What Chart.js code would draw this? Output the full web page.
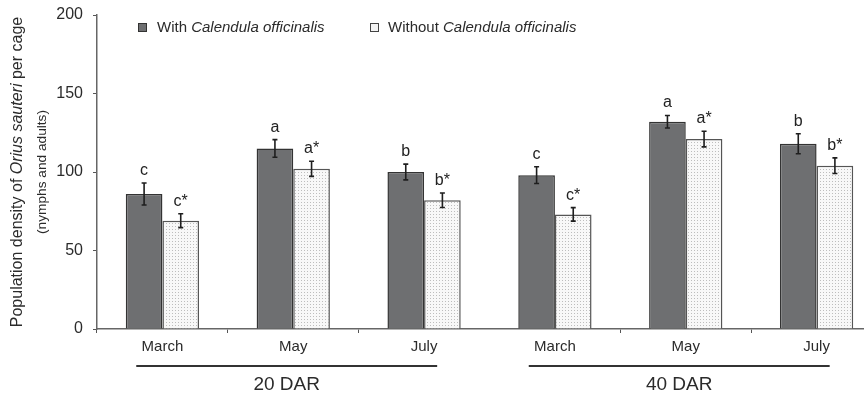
<!DOCTYPE html>
<html>
<head>
<meta charset="utf-8">
<script src="https://cdn.jsdelivr.net/npm/chart.js@4.4.1/dist/chart.umd.min.js"></script>
<style>
  html, body { margin: 0; padding: 0; background: #fff; overflow: hidden; }
  #wrap { position: absolute; left: 0; top: 0; width: 882px; height: 398px; }
</style>
</head>
<body>
<div id="wrap"><canvas id="chart"></canvas></div>
<script>
const months = ["March", "May", "July", "March", "May", "July"];
const groups = [
  { label: "20 DAR", first: 0, last: 2 },
  { label: "40 DAR", first: 3, last: 5 }
];
const withCal = [86, 115, 100, 98, 132, 118];
const withCalErr = [7, 5.6, 5, 5.3, 4, 6.4];
const withCalLetters = ["c", "a", "b", "c", "a", "b"];
const withoutCal = [69, 102, 82, 73, 121, 104];
const withoutCalErr = [4.4, 4.8, 4.6, 4.3, 5, 5];
const withoutCalLetters = ["c*", "a*", "b*", "c*", "a*", "b*"];
const yTicks = [0, 50, 100, 150, 200];

const FONT = "'Liberation Sans', Arial, sans-serif";
const TEXT = "#2b2b2b";

// dotted fill for the "without" bars
function dotPattern() {
  const c = document.createElement("canvas");
  c.width = 3; c.height = 3;
  const g = c.getContext("2d");
  g.fillStyle = "#f8f8f8";
  g.fillRect(0, 0, 3, 3);
  g.fillStyle = "#bdbdbd";
  g.fillRect(1, 1, 1, 1);
  return g.createPattern(c, "repeat");
}

// draws a line of text made of plain/italic pieces, centred on x
function mixedText(ctx, parts, x, y, size) {
  let total = 0;
  parts.forEach(p => {
    ctx.font = (p[1] ? "italic " : "") + size + "px " + FONT;
    total += ctx.measureText(p[0]).width;
  });
  let cx = x - total / 2;
  ctx.textAlign = "left";
  parts.forEach(p => {
    ctx.font = (p[1] ? "italic " : "") + size + "px " + FONT;
    ctx.fillText(p[0], cx, y);
    cx += ctx.measureText(p[0]).width;
  });
}

const errorBars = {
  id: "errorBars",
  afterDatasetsDraw(chart) {
    const ctx = chart.ctx;
    const y = chart.scales.y;
    const errs = [withCalErr, withoutCalErr];
    const letters = [withCalLetters, withoutCalLetters];
    ctx.save();
    chart.data.datasets.forEach((ds, di) => {
      const meta = chart.getDatasetMeta(di);
      meta.data.forEach((bar, i) => {
        const top = y.getPixelForValue(ds.data[i] + errs[di][i]);
        const bot = y.getPixelForValue(ds.data[i] - errs[di][i]);
        ctx.strokeStyle = "#1e1e1e";
        ctx.lineWidth = 1.6;
        ctx.beginPath();
        ctx.moveTo(bar.x, top); ctx.lineTo(bar.x, bot);
        ctx.moveTo(bar.x - 2.5, top); ctx.lineTo(bar.x + 2.5, top);
        ctx.moveTo(bar.x - 2.5, bot); ctx.lineTo(bar.x + 2.5, bot);
        ctx.stroke();
        ctx.fillStyle = "#222";
        ctx.font = "16px " + FONT;
        ctx.textAlign = "center";
        ctx.textBaseline = "alphabetic";
        ctx.fillText(letters[di][i], bar.x, top - 8);
      });
    });
    ctx.restore();
  }
};

const decorations = {
  id: "decorations",
  afterDraw(chart) {
    const ctx = chart.ctx;
    const x = chart.scales.x;
    const area = chart.chartArea;
    const w = x.getPixelForValue(1) - x.getPixelForValue(0);
    ctx.save();
    ctx.fillStyle = TEXT;

    // y axis title
    ctx.save();
    ctx.textBaseline = "middle";
    const midY = (area.top + area.bottom) / 2;
    ctx.translate(18, midY);
    ctx.rotate(-Math.PI / 2);
    mixedText(ctx, [["Population density of ", false], ["Orius sauteri", true], [" per cage", false]], 0, 0, 16);
    ctx.restore();
    ctx.save();
    ctx.textBaseline = "middle";
    ctx.translate(42, midY);
    ctx.rotate(-Math.PI / 2);
    mixedText(ctx, [["(nymphs and adults)", false]], 0, 0, 13.7);
    ctx.restore();

    // legend
    ctx.textBaseline = "middle";
    ctx.lineWidth = 1;
    ctx.fillStyle = "#6e6f71";
    ctx.fillRect(138.5, 23.5, 8, 8);
    ctx.strokeStyle = "#333";
    ctx.strokeRect(138.5, 23.5, 8, 8);
    ctx.fillStyle = "#f4f4f4";
    ctx.fillRect(370.5, 23.5, 8, 8);
    ctx.strokeStyle = "#444";
    ctx.strokeRect(370.5, 23.5, 8, 8);
    ctx.fillStyle = TEXT;
    let lx = 157;
    [["With ", false], ["Calendula officinalis", true]].forEach(p => {
      ctx.font = (p[1] ? "italic " : "") + "15px " + FONT;
      ctx.textAlign = "left";
      ctx.fillText(p[0], lx, 28);
      lx += ctx.measureText(p[0]).width;
    });
    lx = 388;
    [["Without ", false], ["Calendula officinalis", true]].forEach(p => {
      ctx.font = (p[1] ? "italic " : "") + "15px " + FONT;
      ctx.fillText(p[0], lx, 28);
      lx += ctx.measureText(p[0]).width;
    });

    // group lines and labels under the months
    groups.forEach(g => {
      const x0 = x.getPixelForValue(g.first) - 0.2 * w;
      const x1 = x.getPixelForValue(g.last) + 0.1 * w;
      ctx.strokeStyle = "#333";
      ctx.lineWidth = 2;
      ctx.beginPath();
      ctx.moveTo(x0, 366); ctx.lineTo(x1, 366);
      ctx.stroke();
      ctx.font = "19px " + FONT;
      ctx.textAlign = "center";
      ctx.textBaseline = "middle";
      ctx.fillText(g.label, (x0 + x1) / 2, 385);
    });
    ctx.restore();
  }
};

new Chart(document.getElementById("chart"), {
  type: "bar",
  data: {
    labels: months,
    datasets: [
      {
        label: "With Calendula officinalis",
        data: withCal,
        backgroundColor: "#6e6f71",
        borderColor: "#333",
        borderWidth: 1.5
      },
      {
        label: "Without Calendula officinalis",
        data: withoutCal,
        backgroundColor: dotPattern(),
        borderColor: "#555",
        borderWidth: 1.5
      }
    ]
  },
  options: {
    responsive: true,
    maintainAspectRatio: false,
    animation: false,
    events: [],
    layout: { padding: { top: 15, right: 0, bottom: 0, left: 0 } },
    datasets: { bar: { categoryPercentage: 0.56, barPercentage: 1 } },
    plugins: { legend: { display: false }, tooltip: { enabled: false } },
    scales: {
      x: {
        afterFit(s) { s.height = 69; s.paddingLeft = 0; s.paddingRight = 0; },
        grid: {
          drawOnChartArea: false,
          tickLength: 4,
          tickColor: c => (c.index === groups[1].first ? "rgba(0,0,0,0)" : "#555")
        },
        border: { color: "#666", width: 1.5 },
        ticks: { color: TEXT, font: { family: FONT, size: 15 }, padding: 5 }
      },
      y: {
        min: 0,
        max: 200,
        afterFit(s) { s.width = 97; s.paddingTop = 0; s.paddingBottom = 0; },
        afterBuildTicks(s) { s.ticks = yTicks.map(v => ({ value: v })); },
        grid: { drawOnChartArea: false, tickLength: 4, tickColor: "#555" },
        border: { color: "#666", width: 1.5 },
        ticks: { color: TEXT, font: { family: FONT, size: 16 }, padding: 10 }
      }
    }
  },
  plugins: [errorBars, decorations]
});
</script>
</body>
</html>
